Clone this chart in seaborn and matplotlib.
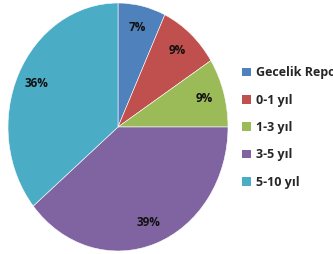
import matplotlib
matplotlib.use('Agg')
import matplotlib.pyplot as plt
import seaborn as sns
from matplotlib.patches import Patch

# data
categories = ['Gecelik Repo', '0-1 yıl', '1-3 yıl', '3-5 yıl', '5-10 yıl']
shares = [7, 9, 9, 39, 36]
colors = ['#4F81BD', '#C0504D', '#9BBB59', '#8064A2', '#4BACC6']

sns.set_style('white')
plt.rcParams['font.family'] = ['Open Sans', 'DejaVu Sans']

fig = plt.figure(figsize=(3.33, 2.54), dpi=100)
ax = fig.add_axes([8 / 333, 3 / 254, 220 / 333, 248 / 254])

wedges, texts, autotexts = ax.pie(
    shares, colors=colors, startangle=90, counterclock=False,
    autopct='%d%%', pctdistance=0.82,
    wedgeprops=dict(linewidth=0.4, edgecolor='white'),
    textprops=dict(fontsize=8.5, fontweight='bold', color='#111111'),
)
# reference pie is a slightly tall ellipse
ax.set_aspect('auto')
ax.set_xlim(-1, 1)
ax.set_ylim(-1, 1)

handles = [Patch(facecolor=c, edgecolor='none') for c in colors]
fig.legend(handles, categories, loc='upper left',
           bbox_to_anchor=(236 / 333, 1 - 60 / 254), frameon=False,
           handlelength=0.7, handleheight=0.7, handletextpad=0.4,
           labelspacing=1.15, borderpad=0,
           prop=dict(size=9, weight='bold'))

fig.savefig('out.png', dpi=100)
